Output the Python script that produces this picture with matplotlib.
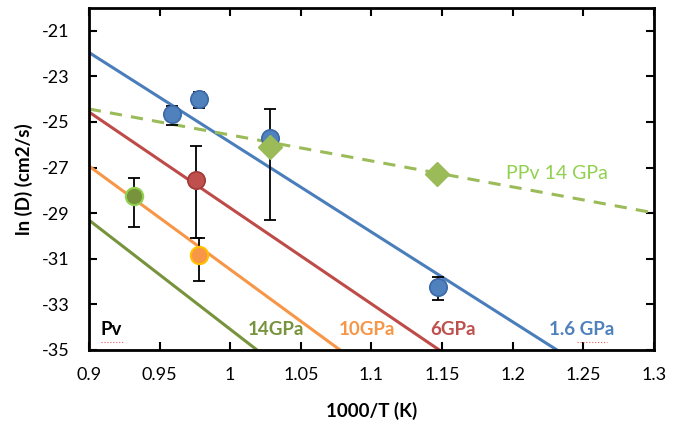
import numpy as np
import matplotlib
matplotlib.use("Agg")
import matplotlib.pyplot as plt

plt.rcParams['font.family'] = ['Lato', 'DejaVu Sans']

# Arrhenius fit lines: value at 1000/T = 0.9 and slope
fit_names = ['1.6 GPa', '6GPa', '10GPa', '14GPa']
fit_y0 = [-21.95, -24.56, -26.93, -29.3]
fit_slope = [-39.4, -42.1, -45.4, -47.9]
fit_colors = ['#4A7EBB', '#BE4B48', '#F79646', '#77933C']
label_colors = ['#4F81BD', '#C0504D', '#F79646', '#77933C']
label_x = [1.2258, 1.1415, 1.077, 1.0126]

ppv_y0 = -24.43
ppv_slope = -11.4

# Data points
blue_x = [0.959, 0.978, 1.028, 1.147]
blue_y = [-24.65, -23.99, -25.7, -32.24]
blue_err_lo = [0.48, 0.4, 0.0, 0.56]
blue_err_hi = [0.35, 0.3, 0.0, 0.45]

ppv_x = [1.028, 1.146]
ppv_y = [-26.1, -27.28]
ppv_err_lo = [3.2, 0.0]
ppv_err_hi = [1.67, 0.0]

red_x = [0.976]
red_y = [-27.54]
red_err_lo = [2.56]
red_err_hi = [1.5]

orange_x = [0.978]
orange_y = [-30.83]
orange_err_lo = [1.15]
orange_err_hi = [0.73]

olive_x = [0.932]
olive_y = [-28.25]
olive_err_lo = [1.35]
olive_err_hi = [0.8]

fig = plt.figure(figsize=(6.73, 4.33), dpi=100)
ax = fig.add_axes([0.132, 0.1917, 0.84, 0.79])

xs = np.array([0.9, 1.3])
for y0, s, c in zip(fit_y0, fit_slope, fit_colors):
    ax.plot(xs, y0 + s * (xs - 0.9), color=c, lw=2.2, zorder=2)
ax.plot(xs, ppv_y0 + ppv_slope * (xs - 0.9), color='#9BBB59', lw=2.2,
        dashes=(4, 3), zorder=2)

ekw = dict(fmt='none', ecolor='black', elinewidth=1.3, capsize=4, capthick=1.3, zorder=3)
ax.errorbar(blue_x, blue_y, yerr=[blue_err_lo, blue_err_hi], **ekw)
ax.errorbar(ppv_x, ppv_y, yerr=[ppv_err_lo, ppv_err_hi], **ekw)
ax.errorbar(red_x, red_y, yerr=[red_err_lo, red_err_hi], **ekw)
ax.errorbar(orange_x, orange_y, yerr=[orange_err_lo, orange_err_hi], **ekw)
ax.errorbar(olive_x, olive_y, yerr=[olive_err_lo, olive_err_hi], **ekw)

ax.plot(blue_x, blue_y, 'o', ms=12.5, mfc='#4F81BD', mec='#3A68A8', mew=1.2, zorder=4)
ax.plot(ppv_x, ppv_y, 'D', ms=12, mfc='#9BBB59', mec='#9BBB59', zorder=5)
ax.plot(red_x, red_y, 'o', ms=12.5, mfc='#C0504D', mec='#A03A37', mew=1.2, zorder=4)
ax.plot(orange_x, orange_y, 'o', ms=12.5, mfc='#F79646', mec='#FFC000', mew=1.5, zorder=4)
ax.plot(olive_x, olive_y, 'o', ms=12.5, mfc='#77933C', mec='#92D050', mew=1.5, zorder=4)

ax.set_xlim(0.9, 1.3)
ax.set_ylim(-35, -20)
ax.set_xticks(np.arange(0.9, 1.3001, 0.05))
ax.set_xticklabels(['0.9', '0.95', '1', '1.05', '1.1', '1.15', '1.2', '1.25', '1.3'])
ax.set_yticks(np.arange(-35, -20, 2))
ax.set_yticklabels([str(v) for v in range(-35, -20, 2)])

ax.tick_params(axis='x', direction='in', top=True, length=6, width=1.5, labelsize=13, pad=12)
ax.tick_params(axis='y', direction='in', left=True, right=True, length=6, width=1.5,
               labelsize=13, pad=14)

for sp in ax.spines.values():
    sp.set_linewidth(2)

ax.set_xlabel('1000/T (K)', fontsize=13.5, fontweight='bold', labelpad=14)
ax.set_ylabel('ln (D) (cm2/s)', fontsize=13.5, fontweight='bold', labelpad=6)

ax.text(0.9085, -34.1, 'Pv', fontsize=13.5, fontweight='bold', color='black', va='center')
ax.plot([0.9085, 0.9245], [-34.65, -34.65], color='#E06060', lw=0.8, ls=':')
for name, lx, c in zip(fit_names, label_x, label_colors):
    ax.text(lx, -34.1, name, fontsize=13.5, fontweight='bold', color=c, va='center')
ax.plot([1.2455, 1.2665], [-34.65, -34.65], color='#E06060', lw=0.8, ls=':')
ax.text(1.1953, -27.28, 'PPv 14 GPa', fontsize=14, color='#92D050', va='center')

fig.savefig('out.png', dpi=100)
